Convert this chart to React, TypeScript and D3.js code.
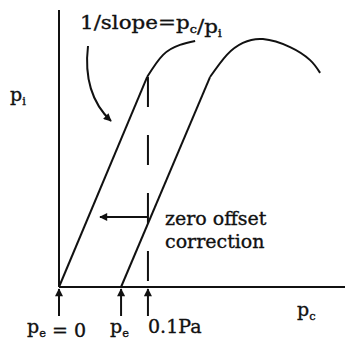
import React from "react";
import * as d3 from "d3";

// Abscissa: chamber pressure p_c (arbitrary units), ordinate: indicated pressure p_i
const idealRise: [number, number][] = [[0, 0], [30.8, 75.8]];
const idealArc: [number, number][] = [[30.8, 75.8], [36.4, 83.8], [42.3, 87.4], [47.6, 88.8]];
const offsetRise: [number, number][] = [[21.7, 0], [52.8, 75.8]];
const offsetArc: [number, number][] = [
  [52.8, 75.8], [58.7, 83.8], [64.3, 88.1], [71.3, 89.5], [80.8, 86.6], [87.8, 81.9], [91.3, 77.3],
];
const markerX = [0, 21.7, 31.1];
const markerLabels = ["p_e = 0", "p_e", "0.1Pa"];
const dashTop = 75.8;

const W = 345, H = 347;
const x = d3.scaleLinear().domain([0, 100]).range([59, 345]);
const y = d3.scaleLinear().domain([0, 100]).range([287, 10]);

const straight = d3.line<[number, number]>().x(d => x(d[0])).y(d => y(d[1]));
const smooth = d3.line<[number, number]>()
  .x(d => x(d[0])).y(d => y(d[1]))
  .curve(d3.curveNatural);

const font = "DejaVu Serif";
const FS = 19;

function Sub({ base, sub, size = FS }: { base: string; sub: string; size?: number }) {
  return (
    <>
      <tspan>{base}</tspan>
      <tspan fontSize={size * 0.6} dy={4}>{sub}</tspan>
      <tspan dy={-4}></tspan>
    </>
  );
}

export default function App() {
  const ax0 = x(0), ay0 = y(0);
  const xd = x(markerX[2]);
  return (
    <svg width={W} height={H} style={{ position: "absolute", left: 0, top: 0 }}>
      <rect width={W} height={H} fill="#fff" />
      <defs>
        <marker id="ah" viewBox="0 0 10 10" refX="9" refY="5" markerWidth="5" markerHeight="4" orient="auto">
          <path d="M0,0 L10,5 L0,10 z" fill="#111" />
        </marker>
      </defs>
      {/* axes */}
      <line x1={ax0} y1={y(100)} x2={ax0} y2={ay0} stroke="#111" strokeWidth={2} />
      <line x1={ax0} y1={ay0} x2={W} y2={ay0} stroke="#111" strokeWidth={2} />
      {/* curves */}
      <path d={straight(idealRise) || ""} fill="none" stroke="#111" strokeWidth={2} />
      <path d={smooth(idealArc) || ""} fill="none" stroke="#111" strokeWidth={2} />
      <path d={straight(offsetRise) || ""} fill="none" stroke="#111" strokeWidth={2} />
      <path d={smooth(offsetArc) || ""} fill="none" stroke="#111" strokeWidth={2} />
      {/* dashed 0.1 Pa line */}
      <line x1={xd} y1={y(dashTop)} x2={xd} y2={ay0} stroke="#111" strokeWidth={2}
        strokeDasharray="30 28" />
      {/* upward arrows under the axis */}
      {markerX.map((m, i) => (
        <line key={i} x1={x(m)} y1={ay0 + 29} x2={x(m)} y2={ay0 + 2} stroke="#111" strokeWidth={2}
          markerEnd="url(#ah)" />
      ))}
      {/* offset correction arrow */}
      <line x1={xd} y1={217} x2={100} y2={217} stroke="#111" strokeWidth={2} markerEnd="url(#ah)" />
      {/* curved pointer to slope */}
      <path d="M88,46 C84,80 94,105 111,121" fill="none" stroke="#111" strokeWidth={2} markerEnd="url(#ah)" />
      {/* text */}
      <g fontFamily={font} fontSize={FS} fill="#111" stroke="#111" strokeWidth={0.35}>
        <text x={80} y={29} textLength={142} lengthAdjust="spacingAndGlyphs">
          1/slope=<Sub base="p" sub="c" />/<Sub base="p" sub="i" />
        </text>
        <text x={10} y={101}><Sub base="p" sub="i" /></text>
        <text x={297} y={316}><Sub base="p" sub="c" /></text>
        <text x={165} y={225}>zero offset</text>
        <text x={165} y={248}>correction</text>
        <text x={27} y={333}><Sub base="p" sub="e" /> = 0</text>
        <text x={110} y={333}><Sub base="p" sub="e" /></text>
        <text x={148} y={333}>{markerLabels[2]}</text>
      </g>
    </svg>
  );
}
